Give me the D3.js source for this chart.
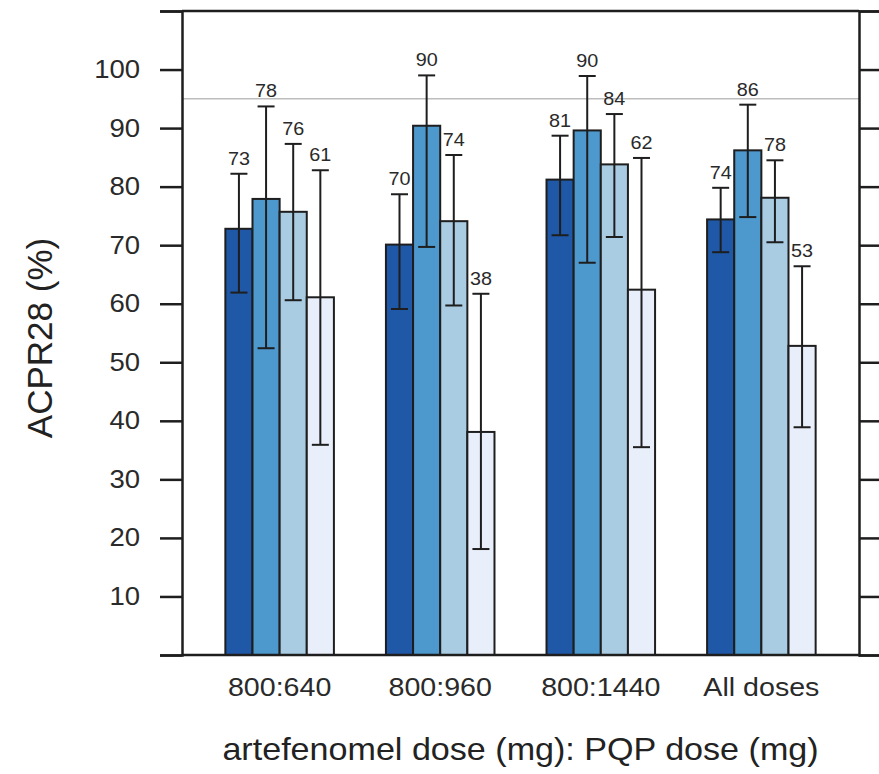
<!DOCTYPE html>
<html>
<head>
<meta charset="utf-8">
<script src="https://cdn.jsdelivr.net/npm/d3@7"></script>
<style>
  html, body { margin: 0; padding: 0; background: #fff; }
  svg { display: block; font-family: "Liberation Sans", Arial, sans-serif; }
</style>
</head>
<body>
<svg id="chart" width="879" height="774"></svg>
<script>
// ---- data ----
const categories = ["800:640", "800:960", "800:1440", "All doses"];
const seriesNames = ["s1", "s2", "s3", "s4"];
const series1 = [72.8, 70.1, 81.2, 74.4];
const series2 = [77.9, 90.4, 89.6, 86.2];
const series3 = [75.7, 74.1, 83.8, 78.1];
const series4 = [61.1, 38.1, 62.4, 52.8];
const lower1 = [61.9, 59.1, 71.7, 68.8];
const upper1 = [82.2, 78.7, 88.7, 79.8];
const lower2 = [52.4, 69.7, 67.0, 74.8];
const upper2 = [93.7, 99.0, 98.9, 94.0];
const lower3 = [60.6, 59.7, 71.4, 70.5];
const upper3 = [87.3, 85.4, 92.4, 84.5];
const lower4 = [35.9, 18.1, 35.5, 38.9];
const upper4 = [82.8, 61.7, 84.9, 66.4];
const yTickValues = [0, 10, 20, 30, 40, 50, 60, 70, 80, 90, 100, 110];
const yTickLabels = ["", "10", "20", "30", "40", "50", "60", "70", "80", "90", "100", ""];
const referenceLine = 95;
const colors = ["#1f58a6", "#4d98cc", "#a9cce2", "#e8eefa"];
const yTitle = "ACPR28 (%)";
const xTitle = "artefenomel dose (mg): PQP dose (mg)";

// ---- build table ----
const values = [series1, series2, series3, series4];
const lowers = [lower1, lower2, lower3, lower4];
const uppers = [upper1, upper2, upper3, upper4];
const table = [];
categories.forEach((c, i) => {
  seriesNames.forEach((s, j) => {
    table.push({ cat: c, ser: s, j, value: values[j][i], lo: lowers[j][i], hi: uppers[j][i] });
  });
});

// ---- layout ----
const mLeft = 182, mRight = 859, mTop = 11, mBottom = 655;
const SX = 1.1; // horizontal text stretch
const ink = "#1e1e1e";

const svg = d3.select("#chart");

const y = d3.scaleLinear().domain([0, 110]).range([mBottom, mTop]);
const x0 = d3.scaleBand().domain(categories).range([mLeft, mRight])
  .paddingInner(0.324).paddingOuter(0.27);
const x1 = d3.scaleBand().domain(seriesNames).range([0, x0.bandwidth()]).padding(0);

// reference line
svg.append("line")
  .attr("x1", mLeft).attr("x2", mRight)
  .attr("y1", y(referenceLine)).attr("y2", y(referenceLine))
  .attr("stroke", "#bdbdbd").attr("stroke-width", 1.5);

// bars
const g = svg.append("g");
g.selectAll("rect.bar").data(table).join("rect")
  .attr("class", "bar")
  .attr("x", d => x0(d.cat) + x1(d.ser))
  .attr("y", d => y(d.value))
  .attr("width", x1.bandwidth())
  .attr("height", d => y(0) - y(d.value))
  .attr("fill", d => colors[d.j])
  .attr("stroke", ink).attr("stroke-width", 2);

// error bars
const capW = 17;
const cx = d => x0(d.cat) + x1(d.ser) + x1.bandwidth() / 2;
const eb = g.selectAll("g.eb").data(table).join("g").attr("class", "eb")
  .attr("stroke", ink).attr("stroke-width", 2);
eb.append("line").attr("x1", cx).attr("x2", cx).attr("y1", d => y(d.lo)).attr("y2", d => y(d.hi));
eb.append("line").attr("x1", d => cx(d) - capW / 2).attr("x2", d => cx(d) + capW / 2)
  .attr("y1", d => y(d.hi)).attr("y2", d => y(d.hi));
eb.append("line").attr("x1", d => cx(d) - capW / 2).attr("x2", d => cx(d) + capW / 2)
  .attr("y1", d => y(d.lo)).attr("y2", d => y(d.lo));

// value labels
g.selectAll("text.val").data(table).join("text")
  .attr("class", "val")
  .attr("transform", d => `translate(${cx(d)},${y(d.hi) - 9}) scale(${SX},1)`)
  .attr("text-anchor", "middle")
  .attr("font-size", 18)
  .attr("fill", "#2a2a2a")
  .text(d => Math.round(d.value));

// left axis
const yAxisL = d3.axisLeft(y).tickValues(yTickValues)
  .tickFormat((d, i) => yTickLabels[i]).tickSize(22).tickPadding(20);
const gl = svg.append("g").attr("transform", `translate(${mLeft},0)`).call(yAxisL);
gl.select(".domain").attr("stroke", ink).attr("stroke-width", 2.5);
gl.selectAll(".tick line").attr("stroke", ink).attr("stroke-width", 2.5);
gl.selectAll(".tick text")
  .attr("font-size", 25).attr("fill", "#2a2a2a")
  .attr("font-family", "'Liberation Sans', Arial, sans-serif")
  .attr("transform", `scale(${SX},1)`)
  .attr("x", -42 / SX);

// right axis
const yAxisR = d3.axisRight(y).tickValues(yTickValues).tickFormat("").tickSize(22);
const gr = svg.append("g").attr("transform", `translate(${mRight},0)`).call(yAxisR);
gr.select(".domain").attr("stroke", ink).attr("stroke-width", 2.5);
gr.selectAll(".tick line").attr("stroke", ink).attr("stroke-width", 2.5);

// top and bottom frame lines
[0, 110].forEach(v => {
  svg.append("line").attr("x1", mLeft).attr("x2", mRight)
    .attr("y1", y(v)).attr("y2", y(v))
    .attr("stroke", ink).attr("stroke-width", 2.5);
});

// bottom axis (category labels)
const xAxis = d3.axisBottom(x0).tickSize(0).tickPadding(0);
const gb = svg.append("g").attr("transform", `translate(0,${mBottom})`).call(xAxis);
gb.select(".domain").remove();
gb.selectAll(".tick text")
  .attr("font-size", 26).attr("fill", "#2a2a2a")
  .attr("font-family", "'Liberation Sans', Arial, sans-serif")
  .attr("dy", null)
  .attr("y", 41)
  .attr("transform", `scale(${SX},1)`);

// axis titles
svg.append("text")
  .attr("transform", `translate(${(mLeft + mRight) / 2},760) scale(${SX},1)`)
  .attr("text-anchor", "middle")
  .attr("font-size", 31).attr("fill", "#222")
  .text(xTitle);

svg.append("text")
  .attr("transform", `translate(52,${(mTop + mBottom) / 2 + 5}) rotate(-90)`)
  .attr("text-anchor", "middle")
  .attr("font-size", 35).attr("fill", "#222")
  .text(yTitle);
</script>
</body>
</html>
